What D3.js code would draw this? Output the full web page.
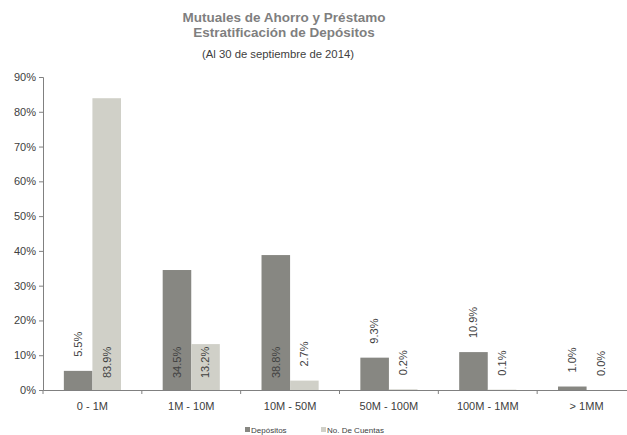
<!DOCTYPE html>
<html>
<head>
<meta charset="utf-8">
<script src="https://cdn.jsdelivr.net/npm/d3@7"></script>
<style>
  html, body { margin: 0; padding: 0; background: #fff; }
  svg { display: block; }
  svg text { font-family: "Liberation Sans", Arimo, Arial, sans-serif; }
</style>
</head>
<body>
<svg id="chart" width="627" height="435"></svg>
<script>
const categories = ["0 - 1M", "1M - 10M", "10M - 50M", "50M - 100M", "100M - 1MM", "> 1MM"];
const depositos = [5.5, 34.5, 38.8, 9.3, 10.9, 1.0];
const cuentas = [83.9, 13.2, 2.7, 0.2, 0.1, 0.0];
const seriesNames = ["Depósitos", "No. De Cuentas"];
const yTicks = [0, 10, 20, 30, 40, 50, 60, 70, 80, 90];
const titleLines = ["Mutuales de Ahorro y Préstamo", "Estratificación de Depósitos"];
const subtitle = "(Al 30 de septiembre de 2014)";

const FONT = "Liberation Sans, Arimo, Arial, sans-serif";
const colors = ["#878782", "#d0d0c8"];
const svg = d3.select("#chart").attr("font-family", FONT);
const W = 627, H = 435;
const m = { left: 43, top: 77, bottom: 45 };
const plotBottom = H - m.bottom;

const x = d3.scaleBand().domain(categories).range([m.left, 636]).paddingInner(0).paddingOuter(0);
const y = d3.scaleLinear().domain([0, 90]).range([plotBottom, m.top]);
const sub = d3.scaleBand().domain(seriesNames).range([0, x.bandwidth()]).paddingInner(0).paddingOuter(0.73);

// titles
svg.append("g").selectAll("text").data(titleLines).join("text")
  .attr("x", 284).attr("y", (d, i) => 21.5 + i * 15.5)
  .attr("text-anchor", "middle").attr("font-size", 13.5).attr("font-weight", "bold")
  .attr("fill", "#7f7f7f").text(d => d);
svg.append("text").attr("x", 278).attr("y", 58).attr("text-anchor", "middle")
  .attr("font-size", 11.3).attr("fill", "#404040").text(subtitle);

// bars
const rows = categories.map((c, i) => ({ c, vals: [depositos[i], cuentas[i]] }));
const groups = svg.append("g").selectAll("g").data(rows).join("g")
  .attr("transform", d => `translate(${x(d.c)},0)`);
groups.selectAll("rect").data(d => d.vals.map((v, j) => ({ v, s: seriesNames[j], j })))
  .join("rect")
  .attr("x", d => sub(d.s)).attr("width", sub.bandwidth())
  .attr("y", d => y(d.v)).attr("height", d => plotBottom - y(d.v))
  .attr("fill", d => colors[d.j]);

// value labels
const fmt = v => v.toFixed(1) + "%";
groups.selectAll("text").data(d => d.vals.map((v, j) => ({ v, s: seriesNames[j], j })))
  .join("text")
  .attr("font-size", 11).attr("fill", "#404040")
  .attr("text-anchor", "start")
  .attr("transform", d => {
    const cx = sub(d.s) + sub.bandwidth() / 2;
    const base = d.v > 12 ? plotBottom - 12 : y(d.v) - 14;
    return `translate(${cx},${base}) rotate(-90)`;
  })
  .attr("dy", "0.35em")
  .text(d => fmt(d.v));

// y axis
const yAxis = d3.axisLeft(y).tickValues(yTicks).tickFormat(d => d + "%").tickSize(4).tickPadding(3);
const gy = svg.append("g").attr("transform", `translate(${m.left},0)`).call(yAxis);
gy.attr("font-family", FONT);
gy.select(".domain").attr("stroke", "#808080");
gy.selectAll(".tick line").attr("stroke", "#808080");
gy.selectAll(".tick text").attr("font-size", 11).attr("fill", "#404040");

// x axis
const xAxis = d3.axisBottom(x).tickSize(0).tickPadding(12);
const gx = svg.append("g").attr("transform", `translate(0,${plotBottom})`).call(xAxis);
gx.attr("font-family", FONT);
gx.select(".domain").attr("stroke", "#808080");
gx.selectAll(".tick text").attr("font-size", 11).attr("fill", "#404040");
// category separators
svg.append("g").selectAll("line").data(categories).join("line")
  .attr("x1", d => x(d)).attr("x2", d => x(d))
  .attr("y1", plotBottom).attr("y2", plotBottom + 4)
  .attr("stroke", "#808080");

// legend
const legend = svg.append("g");
const legX = [245, 321];
seriesNames.forEach((s, i) => {
  legend.append("rect").attr("x", legX[i]).attr("y", 427).attr("width", 5).attr("height", 5).attr("fill", colors[i]);
  legend.append("text").attr("x", legX[i] + 6).attr("y", 432.5).attr("font-size", 8).attr("fill", "#404040").text(s);
});
</script>
</body>
</html>
